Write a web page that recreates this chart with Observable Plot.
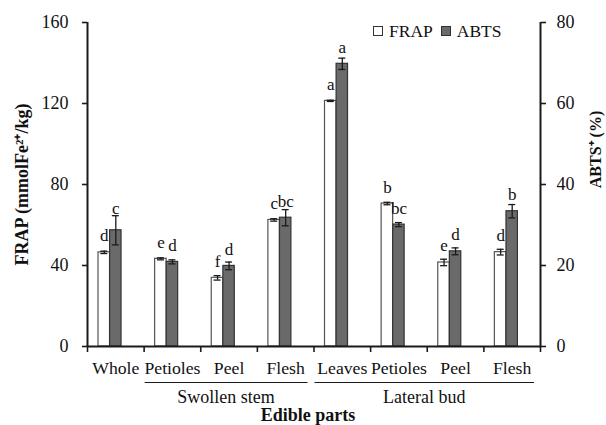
<!DOCTYPE html>
<html><head><meta charset="utf-8">
<script src="https://cdn.jsdelivr.net/npm/d3@7"></script>
<script src="https://cdn.jsdelivr.net/npm/@observablehq/plot@0.6"></script>
<style>
body{margin:0;background:#fff;}
#wrap{position:relative;width:606px;height:425px;font-family:"Liberation Serif","Times New Roman",serif;}
#legend{position:absolute;left:373px;top:21px;font-size:17.5px;color:#111;display:flex;align-items:center;white-space:nowrap;line-height:20px;}
.sw{display:inline-block;width:8px;height:8px;border:1px solid #333;margin-right:6px;}
</style></head><body><div id="wrap"><div id="legend"></div></div>
<script>
const categories = ["Whole","Petioles","Peel","Flesh","Leaves","Petioles","Peel","Flesh"];
const groups = [{name:"Swollen stem", start:1, end:4},{name:"Lateral bud", start:4, end:8}];
const frap = [46.5, 43.3, 33.9, 62.5, 121.3, 70.6, 41.5, 46.6];
const frapErr = [0.6, 0.5, 1.1, 0.6, 0.3, 0.6, 1.6, 1.4];
const abts = [28.7, 20.9, 19.9, 31.8, 69.8, 30.1, 23.5, 33.4];
const abtsErr = [3.6, 0.5, 0.95, 2.0, 1.4, 0.5, 0.85, 1.65];
const frapLetters = ["d","e","f","c","a","b","e","d"];
const abtsLetters = ["c","d","d","bc","a","bc","d","b"];
const seriesNames = ["FRAP","ABTS"];
const yTicks = [0,40,80,120,160];

const k = 160/80; // right axis (0-80 %) onto left axis (0-160)
const rows = categories.map((c,i)=>({i, c,
  frap: frap[i], fe: frapErr[i], fl: frapLetters[i],
  abts: abts[i]*k, ae: abtsErr[i]*k, al: abtsLetters[i]}));

const serif = '"Liberation Serif","Times New Roman",serif';
const dark = "#1a1a1a";
const white = "#ffffff", gray = "#6a6a6a";
const cx = d => d.i + 0.5;
// letters sit above the bar, or just above a tall error bar
const labelY = (v, e) => d => Math.max(d[v], d[v] + d[e] - 4.4);

function errMarks(v, e, dx){
  return [
    Plot.ruleX(rows, {x: cx, y1: d=>d[v]-d[e], y2: d=>d[v]+d[e], dx, stroke: dark, strokeWidth: 1.3}),
    Plot.ruleY(rows, {x1: cx, x2: cx, y: d=>d[v]+d[e], dx, insetLeft: -3.5, insetRight: -3.5, stroke: dark, strokeWidth: 1.3}),
    Plot.ruleY(rows, {x1: cx, x2: cx, y: d=>d[v]-d[e], dx, insetLeft: -3.5, insetRight: -3.5, stroke: dark, strokeWidth: 1.3})
  ];
}

const chart = Plot.plot({
  width: 606, height: 425,
  marginLeft: 87, marginRight: 66, marginTop: 22, marginBottom: 79,
  x: {domain: [0, categories.length], axis: null},
  y: {domain: [0, 160], axis: null},
  style: {fontFamily: serif, fontSize: "17px", color: "#111", background: "white", overflow: "visible"},
  marks: [
    Plot.rect(rows, {x1: d=>d.i, x2: d=>d.i+1, y1: 0, y2: "frap", fill: white, stroke: "#555", strokeWidth: 1.2, insetLeft: 11, insetRight: 34.1}),
    Plot.rect(rows, {x1: d=>d.i, x2: d=>d.i+1, y1: 0, y2: "abts", fill: gray, stroke: "#333", strokeWidth: 1.2, insetLeft: 22.6, insetRight: 22.6}),
    ...errMarks("frap","fe",-11.5),
    ...errMarks("abts","ae",0),
    Plot.text(rows, {x: cx, y: labelY("frap","fe"), text: "fl", dx: -11.5, dy: -11, lineAnchor: "bottom", fontSize: 17, fill: "#111"}),
    Plot.text(rows, {x: cx, y: labelY("abts","ae"), text: "al", dx: 0, dy: -11, lineAnchor: "bottom", fontSize: 17, fill: "#111"}),
    Plot.axisY({ticks: yTicks, tickSize: 5, tickPadding: 14, fontSize: 18, label: null, stroke: dark, strokeWidth: 1.6, fill: "#111"}),
    Plot.axisY({anchor: "right", ticks: yTicks, tickFormat: d => d/k, tickSize: 5, tickPadding: 11, fontSize: 18, label: null, stroke: dark, strokeWidth: 1.6, fill: "#111"}),
    Plot.axisX({ticks: d3.range(categories.length+1), tickFormat: () => "", tickSize: 6, label: null, stroke: dark, strokeWidth: 1.6}),
    Plot.ruleX([0, categories.length], {stroke: dark, strokeWidth: 2}),
    Plot.ruleY([0], {stroke: dark, strokeWidth: 2}),
    Plot.text(rows, {x: cx, text: "c", frameAnchor: "bottom", dy: 22, lineAnchor: "middle", fontSize: 17.7, fill: "#111"}),
    Plot.ruleY(groups, {x1: "start", x2: "end", y: 0, dy: 36, insetLeft: 1, insetRight: 6, stroke: dark, strokeWidth: 1}),
    Plot.text(groups, {x: d => (d.start+d.end)/2, text: "name", frameAnchor: "bottom", dy: 51, dx: -3, lineAnchor: "middle", fontSize: 18, fill: "#111"}),
    Plot.text(["Edible parts"], {frameAnchor: "bottom", dy: 69, dx: -6, lineAnchor: "middle", fontSize: 18, fontWeight: "bold", fill: "#111"}),
    Plot.text(["FRAP (mmolFe\u00B2\u207A/kg)"], {frameAnchor: "left", dx: -65, rotate: -90, textAnchor: "middle", lineAnchor: "middle", fontSize: 18, fontWeight: "bold", fill: "#111"}),
    Plot.text(["ABTS\u207A (%)"], {frameAnchor: "right", dx: 55, dy: -35, rotate: -90, textAnchor: "middle", lineAnchor: "middle", fontSize: 16, fontWeight: "bold", fill: "#111"})
  ]
});
const wrap = document.getElementById("wrap");
wrap.insertBefore(chart, wrap.firstChild);

const legend = document.getElementById("legend");
const fills = [white, gray];
seriesNames.forEach((s, j) => {
  const sw = document.createElement("span");
  sw.className = "sw";
  sw.style.background = fills[j];
  const t = document.createElement("span");
  t.textContent = s;
  t.style.marginRight = j === 0 ? "8px" : "0";
  legend.appendChild(sw); legend.appendChild(t);
});
</script></body></html>
